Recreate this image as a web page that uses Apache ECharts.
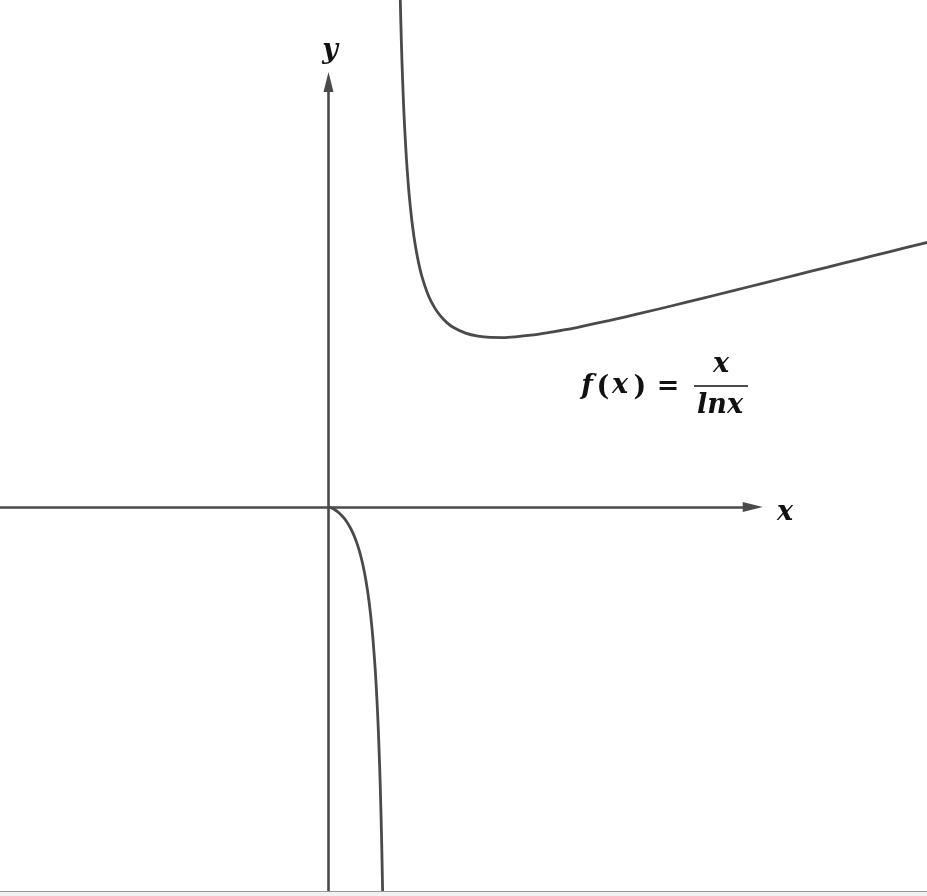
<!DOCTYPE html>
<html>
<head>
<meta charset="utf-8">
<script src="https://cdn.jsdelivr.net/npm/echarts@6/dist/echarts.min.js"></script>
<style>
  html, body { margin: 0; padding: 0; background: #f1f1f1; }
  #chart { width: 927px; height: 891px; background: #ffffff; border-bottom: 1px solid #9a9a9a; }
</style>
</head>
<body>
<div id="chart"></div>
<script>
// Window of the plot (data units)
const xRange = [-5.273, 9.607];
const yRange = [-6.164, 8.138];

// Axis extents (centre of the arrow heads)
const xAxisEnd = 6.81;
const yAxisEnd = 6.82;

// Left branch of f(x) = x / ln x  (0 < x < 1)
const leftX = [0, 0.001, 0.005, 0.01, 0.02, 0.05, 0.1, 0.15, 0.2, 0.25, 0.3, 0.35, 0.4, 0.45, 0.5, 0.55, 0.6, 0.65, 0.7, 0.75, 0.78, 0.8, 0.82, 0.83, 0.84, 0.85, 0.86, 0.87, 0.88, 0.89, 0.9];
const leftY = [0, -0.00014, -0.00094, -0.00217, -0.00511, -0.0167, -0.0434, -0.0791, -0.1243, -0.1803, -0.2492, -0.3334, -0.4365, -0.5636, -0.7213, -0.9200, -1.1746, -1.5089, -1.9626, -2.6071, -3.139, -3.5852, -4.132, -4.454, -4.818, -5.230, -5.702, -6.247, -6.884, -7.637, -8.542];

// Right branch (x > 1)
const rightX = [1.1, 1.12, 1.14, 1.16, 1.18, 1.2, 1.22, 1.25, 1.28, 1.3, 1.35, 1.4, 1.45, 1.5, 1.6, 1.7, 1.8, 1.9, 2.0, 2.2, 2.4, 2.6, 2.8, 3.0, 3.25, 3.5, 3.75, 4, 4.5, 5, 5.5, 6, 6.5, 7, 7.5, 8, 8.5, 9, 9.5, 10];
const rightY = [11.541, 9.883, 8.700, 7.816, 7.129, 6.582, 6.135, 5.602, 5.185, 4.955, 4.498, 4.161, 3.902, 3.699, 3.404, 3.204, 3.062, 2.960, 2.885, 2.790, 2.741, 2.721, 2.719, 2.731, 2.757, 2.794, 2.837, 2.885, 2.992, 3.107, 3.226, 3.349, 3.473, 3.597, 3.722, 3.847, 3.972, 4.096, 4.220, 4.343];

const pair = (xs, ys) => xs.map((v, i) => [v, ys[i]]);

const chart = echarts.init(document.getElementById('chart'));
const ink = '#4a4a4a';
const txt = '#111111';
const mathFont = '"DejaVu Serif", serif';

function glyph(s, x, y, size, italic) {
  return {
    type: 'text', x: x, y: y, silent: true,
    style: {
      text: s, fill: txt,
      fontFamily: mathFont, fontSize: size,
      fontStyle: italic === false ? 'normal' : 'italic', fontWeight: 'bold',
      align: 'center', verticalAlign: 'middle'
    }
  };
}

chart.setOption({
  animation: false,
  backgroundColor: '#ffffff',
  grid: { left: 0, right: 0, top: 0, bottom: 0 },
  xAxis: { type: 'value', min: xRange[0], max: xRange[1], show: false },
  yAxis: { type: 'value', min: yRange[0], max: yRange[1], show: false },
  series: [
    {
      type: 'line', data: [], silent: true,
      markLine: {
        silent: true, animation: false,
        symbol: ['none', 'triangle'],
        symbolSize: [10, 20],
        label: { show: false },
        lineStyle: { color: ink, width: 2.6, type: 'solid' },
        data: [
          [{ coord: [xRange[0], 0] }, { coord: [xAxisEnd, 0] }],
          [{ coord: [0, yRange[0]] }, { coord: [0, yAxisEnd] }]
        ]
      }
    },
    {
      type: 'line', data: pair(leftX, leftY), showSymbol: false, smooth: 0.25,
      lineStyle: { color: ink, width: 2.8 }, clip: true, silent: true
    },
    {
      type: 'line', data: pair(rightX, rightY), showSymbol: false, smooth: 0.25,
      lineStyle: { color: ink, width: 2.8 }, clip: true, silent: true
    }
  ],
  graphic: [
    glyph('y', 330, 51, 27),
    glyph('x', 785, 513, 27),
    glyph('f', 587, 387, 27),
    glyph('(', 603, 388, 27, false),
    glyph('x', 620, 386, 27),
    glyph(')', 640, 388, 27, false),
    glyph('=', 668, 387, 27, false),
    glyph('x', 721, 365, 27),
    { type: 'line', silent: true, shape: { x1: 694, y1: 386, x2: 748, y2: 386 }, style: { stroke: txt, lineWidth: 1.4 } },
    glyph('lnx', 720, 406, 27)
  ]
});
</script>
</body>
</html>
